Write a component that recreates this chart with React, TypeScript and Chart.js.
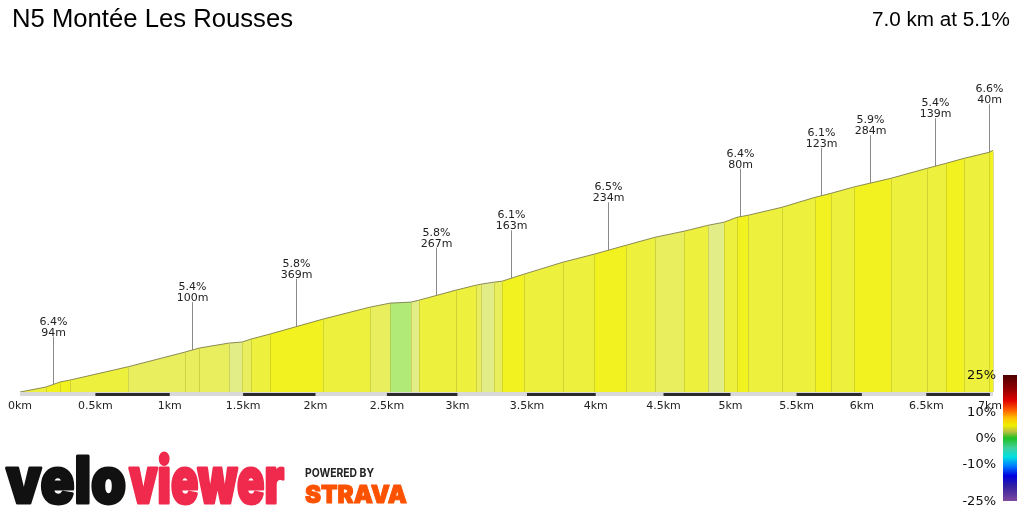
import React, { useEffect, useRef } from 'react';
import { Chart, registerables, LinearScale } from 'chart.js';

Chart.register(...registerables);

// ---------- data ----------
const TITLE = 'N5 Montée Les Rousses';
const SUMMARY = '7.0 km at 5.1%';

const DIST_KM = [0, 0.172, 0.265, 0.331, 0.719, 1.104, 1.199, 1.404, 1.493, 1.554, 1.685, 2.052, 2.381, 2.522, 2.67, 2.727, 2.99, 3.133, 3.169, 3.262, 3.32, 3.478, 3.761, 3.988, 4.223, 4.437, 4.652, 4.832, 4.951, 5.049, 5.132, 5.389, 5.641, 5.763, 5.94, 6.225, 6.505, 6.654, 6.795, 6.992, 7.024];
const ELEV_M = [0, 7.4, 14.8, 17.7, 37.3, 59.0, 64.9, 72.3, 73.8, 78.2, 85.6, 107.7, 125.4, 131.3, 132.8, 135.7, 150.5, 157.8, 159.3, 162.3, 163.7, 174.1, 191.8, 203.6, 216.8, 228.6, 237.5, 246.3, 250.8, 258.1, 261.1, 272.9, 287.6, 293.5, 303.0, 315.7, 330.4, 337.8, 345.2, 354.0, 357.0];

const Y1 = '#f1f21f';
const Y2 = '#edf03c';
const Y3 = '#e8ee5e';
const Y4 = '#e3ed88';
const GR = '#b2ea78';
const SEG_COLORS = [Y2, Y1, Y1, Y2, Y3, Y3, Y3, Y4, Y3, Y2, Y1, Y2, Y3, GR, Y4, Y2, Y2, Y3, Y4, Y3, Y1, Y2, Y2, Y1, Y2, Y3, Y2, Y4, Y2, Y1, Y2, Y2, Y1, Y2, Y1, Y2, Y2, Y1, Y2, Y1];

const TICK_STEP_KM = 0.5;

const ANN_KM = [0.218, 1.151, 1.865, 2.848, 3.385, 4.09, 5.072, 5.686, 6.063, 6.568, 6.992];
const ANN_GRADE = ['6.4%', '5.4%', '5.8%', '5.8%', '6.1%', '6.5%', '6.4%', '6.1%', '5.9%', '5.4%', '6.6%'];
const ANN_LENGTH = ['94m', '100m', '369m', '267m', '163m', '234m', '80m', '123m', '284m', '139m', '40m'];

const STRIPE_START_KM = [0.5, 1.5, 2.5, 3.5, 4.5, 5.5, 6.5];
const STRIPE_END_KM = [1, 2, 3, 4, 5, 6, 7];

const LEGEND_LABELS = ['25%', '10%', '0%', '-10%', '-25%'];
const LEGEND_LABEL_POS = [0.0, 0.29, 0.5, 0.7, 1.0];
const LEGEND_STOPS = [0, 0.12, 0.2, 0.28, 0.34, 0.4, 0.45, 0.5, 0.58, 0.65, 0.72, 0.8, 0.88, 1];
const LEGEND_COLORS = ['#4d0000', '#980000', '#e00000', '#ff6000', '#ffc000', '#eeee00', '#b8c040', '#20c020', '#40d0a0', '#00e0e0', '#0080ff', '#0000e0', '#3020a0', '#8048a0'];

const PERSPECTIVE = 0.01358;

// ---------- perspective distance scale ----------
class PerspectiveScale extends LinearScale {
  static id = 'perspective';
  static defaults = { ...LinearScale.defaults };
  _f(u: number) {
    return u / (1 + PERSPECTIVE * u);
  }
  getPixelForValue(value: number) {
    const T = this._f(this.max - this.min);
    return this.left + ((this.right - this.left) * this._f(value - this.min)) / T;
  }
  getValueForPixel(pixel: number) {
    const T = this._f(this.max - this.min);
    const g = ((pixel - this.left) / (this.right - this.left)) * T;
    return this.min + g / (1 - PERSPECTIVE * g);
  }
}
Chart.register(PerspectiveScale as any);

function elevAt(km: number) {
  for (let i = 0; i < DIST_KM.length - 1; i++) {
    if (km >= DIST_KM[i] && km <= DIST_KM[i + 1]) {
      const t = (km - DIST_KM[i]) / (DIST_KM[i + 1] - DIST_KM[i]);
      return ELEV_M[i] + t * (ELEV_M[i + 1] - ELEV_M[i]);
    }
  }
  return ELEV_M[ELEV_M.length - 1];
}

function fitText(ctx: CanvasRenderingContext2D, text: string, x: number, y: number, width: number, stroke = 0) {
  const w = ctx.measureText(text).width;
  ctx.save();
  ctx.translate(x, y);
  ctx.scale(width / w, 1);
  ctx.textAlign = 'left';
  if (stroke > 0) {
    ctx.strokeStyle = ctx.fillStyle as string;
    ctx.lineWidth = stroke;
    ctx.lineJoin = 'round';
    ctx.strokeText(text, 0, 0);
  }
  ctx.fillText(text, 0, 0);
  ctx.restore();
}

const profilePlugin = {
  id: 'profileDecor',
  afterDatasetsDraw(chart: any) {
    const ctx: CanvasRenderingContext2D = chart.ctx;
    const xs = chart.scales.x;
    const ys = chart.scales.y;
    const bottom = chart.chartArea.bottom;
    const meta = chart.getDatasetMeta(0);
    ctx.save();
    // segment separators
    ctx.strokeStyle = 'rgba(175,175,40,0.45)';
    ctx.lineWidth = 1;
    meta.data.forEach((pt: any, i: number) => {
      if (i === 0) return;
      const x = Math.round(pt.x) + 0.5;
      ctx.beginPath();
      ctx.moveTo(x, pt.y + 1);
      ctx.lineTo(x, bottom);
      ctx.stroke();
    });
    // base strip
    const x0 = xs.getPixelForValue(0);
    const x1 = xs.getPixelForValue(DIST_KM[DIST_KM.length - 1]);
    ctx.fillStyle = '#d9d9d9';
    ctx.fillRect(x0, bottom, x1 - x0, 4);
    ctx.fillStyle = '#2b2b2b';
    STRIPE_START_KM.forEach((s, i) => {
      const a = xs.getPixelForValue(s);
      const b = xs.getPixelForValue(STRIPE_END_KM[i]);
      ctx.fillRect(a, bottom + 1, b - a, 3);
    });
    // annotations
    ctx.font = '11px "DejaVu Sans"';
    ctx.textAlign = 'center';
    ctx.textBaseline = 'alphabetic';
    ANN_KM.forEach((km, i) => {
      const x = Math.round(xs.getPixelForValue(km)) + 0.5;
      const y = ys.getPixelForValue(elevAt(km));
      const top = y - 48;
      ctx.strokeStyle = '#8a8a8a';
      ctx.beginPath();
      ctx.moveTo(x, y);
      ctx.lineTo(x, top);
      ctx.stroke();
      ctx.fillStyle = '#222';
      ctx.fillText(ANN_LENGTH[i], x, top - 1);
      ctx.fillText(ANN_GRADE[i], x, top - 12);
    });
    ctx.restore();
  },
  afterDraw(chart: any) {
    const ctx: CanvasRenderingContext2D = chart.ctx;
    ctx.save();
    // title
    ctx.fillStyle = '#000';
    ctx.textBaseline = 'alphabetic';
    ctx.font = '25px "Liberation Sans", Arial, sans-serif';
    fitText(ctx, TITLE, 12, 27, 281);
    ctx.font = '20px "Liberation Sans", Arial, sans-serif';
    fitText(ctx, SUMMARY, 872, 26, 138);
    // legend color bar
    const top = 375, bot = 501, lx = 1003, lw = 14;
    const g = ctx.createLinearGradient(0, top, 0, bot);
    LEGEND_STOPS.forEach((s, i) => g.addColorStop(s, LEGEND_COLORS[i]));
    ctx.fillStyle = g;
    ctx.fillRect(lx, top, lw, bot - top);
    ctx.fillStyle = '#111';
    ctx.font = '13px "DejaVu Sans"';
    ctx.textAlign = 'right';
    ctx.textBaseline = 'middle';
    LEGEND_LABELS.forEach((l, i) => {
      ctx.fillText(l, 996, top + 1 + LEGEND_LABEL_POS[i] * (bot - top));
    });
    // logos
    ctx.textBaseline = 'alphabetic';
    ctx.textAlign = 'left';
    ctx.font = '900 64px Inter, Lato, sans-serif';
    ctx.fillStyle = '#111';
    fitText(ctx, 'velo', 6, 503, 120, 3);
    ctx.fillStyle = '#ef2a4c';
    fitText(ctx, 'viewer', 129, 503, 155, 3);
    ctx.fillStyle = '#222';
    ctx.font = '700 12px Inter, sans-serif';
    fitText(ctx, 'POWERED BY', 305, 477, 69);
    ctx.fillStyle = '#fc5200';
    ctx.font = '900 25px Inter, sans-serif';
    fitText(ctx, 'STRAVA', 305, 503, 102, 1);
    ctx.restore();
  },
};

export default function App() {
  const ref = useRef<HTMLCanvasElement>(null);
  useEffect(() => {
    document.body.style.margin = '0';
    const canvas = ref.current!;
    const chart = new Chart(canvas, {
      type: 'line',
      data: {
        datasets: [
          {
            data: DIST_KM.map((x, i) => ({ x, y: ELEV_M[i] })),
            fill: 'origin',
            backgroundColor: Y2,
            borderColor: 'rgba(120,120,70,0.85)',
            borderWidth: 1,
            pointRadius: 0,
            tension: 0,
            segment: {
              backgroundColor: (c: any) => SEG_COLORS[c.p0DataIndex],
            },
          },
        ],
      },
      options: {
        responsive: false,
        animation: false,
        events: [],
        layout: { padding: { left: 20, right: 31, top: 40, bottom: 100 } },
        plugins: { legend: { display: false }, tooltip: { enabled: false } },
        scales: {
          x: {
            type: 'perspective' as any,
            min: 0,
            max: DIST_KM[DIST_KM.length - 1],
            bounds: 'data',
            grid: { display: false, drawTicks: false },
            border: { display: false },
            afterFit: (s: any) => {
              s.height = 20;
            },
            ticks: {
              stepSize: TICK_STEP_KM,
              includeBounds: false,
              autoSkip: false,
              maxRotation: 0,
              padding: 8,
              color: '#222',
              font: { family: 'DejaVu Sans', size: 11 },
              callback: (v: any) => `${v}km`,
            },
          },
          y: { type: 'linear', display: false, min: 0, max: 520 },
        },
      },
      plugins: [profilePlugin],
    } as any);
    return () => chart.destroy();
  }, []);
  return (
    <div style={{ width: 1024, height: 512, background: '#fff', position: 'relative' }}>
      <canvas ref={ref} width={1024} height={512} style={{ display: 'block' }} />
    </div>
  );
}
